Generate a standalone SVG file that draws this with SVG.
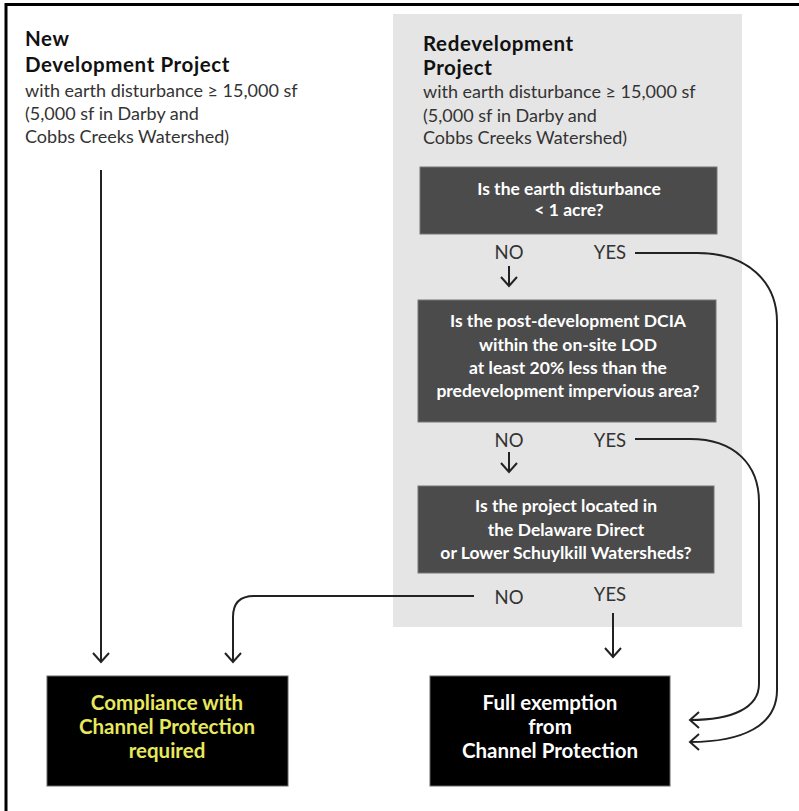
<svg xmlns="http://www.w3.org/2000/svg" width="799" height="811" viewBox="0 0 799 811">
<style>
  text { font-family: Lato, "Open Sans", "Liberation Sans", sans-serif; }
  .title { font-size: 20.5px; font-weight: bold; fill: #111; letter-spacing: 0.6px; }
  .sub { font-size: 18px; fill: #333; }
  .q { font-size: 17.5px; font-weight: bold; fill: #fff; text-anchor: middle; }
  .lbl { font-size: 18.5px; fill: #333; text-anchor: middle; }
  .res { font-size: 20.5px; font-weight: bold; text-anchor: middle; }
  .qbox { fill: #4b4b4b; stroke: #777; stroke-width: 1; }
  .rbox { fill: #000; stroke: #666; stroke-width: 1; }
  .line { fill: none; stroke: #222; stroke-width: 2; }
</style>
<defs>
  <marker id="ah" viewBox="0 0 20 20" refX="10" refY="10" markerWidth="20" markerHeight="20" markerUnits="userSpaceOnUse" orient="auto">
    <path d="M1,2 L10,10 L1,18" fill="none" stroke="#222" stroke-width="2"/>
  </marker>
</defs>
<rect x="0" y="0" width="799" height="811" fill="#fff"/>
<path d="M6,820 V4.5 H805" fill="none" stroke="#000" stroke-width="3"/>
<rect id="panel" x="393" y="14" width="349" height="613" fill="#e5e5e5"/>

<g id="new-project">
  <text class="title" x="25" y="46">New</text>
  <text class="title" x="25" y="72">Development Project</text>
  <text class="sub" x="25" y="97">with earth disturbance ≥ 15,000 sf</text>
  <text class="sub" x="25" y="120">(5,000 sf in Darby and</text>
  <text class="sub" x="25" y="143">Cobbs Creeks Watershed)</text>
</g>

<g id="redevelopment-project">
  <text class="title" x="423" y="51">Redevelopment</text>
  <text class="title" x="423" y="75">Project</text>
  <text class="sub" x="423" y="98">with earth disturbance ≥ 15,000 sf</text>
  <text class="sub" x="423" y="122">(5,000 sf in Darby and</text>
  <text class="sub" x="423" y="144">Cobbs Creeks Watershed)</text>
</g>

<g id="q1">
  <rect class="qbox" x="420" y="167" width="297" height="67"/>
  <text class="q" x="569" y="195">Is the earth disturbance</text>
  <text class="q" x="569" y="216">&lt; 1 acre?</text>
</g>

<g id="q2">
  <rect class="qbox" x="418" y="300" width="298" height="122"/>
  <text class="q" x="568" y="327">Is the post-development DCIA</text>
  <text class="q" x="568" y="351">within the on-site LOD</text>
  <text class="q" x="568" y="374">at least 20% less than the</text>
  <text class="q" x="568" y="397">predevelopment impervious area?</text>
</g>

<g id="q3">
  <rect class="qbox" x="418" y="486" width="296" height="87"/>
  <text class="q" x="566" y="512">Is the project located in</text>
  <text class="q" x="566" y="536">the Delaware Direct</text>
  <text class="q" x="566" y="559">or Lower Schuylkill Watersheds?</text>
</g>

<g id="compliance">
  <rect class="rbox" x="47" y="676" width="241" height="110"/>
  <text class="res" x="167" y="710" fill="#e8e85c">Compliance with</text>
  <text class="res" x="167" y="734" fill="#e8e85c">Channel Protection</text>
  <text class="res" x="167" y="758" fill="#e8e85c">required</text>
</g>

<g id="exemption">
  <rect class="rbox" x="430" y="676" width="240" height="110"/>
  <text class="res" x="550" y="710" fill="#fff">Full exemption</text>
  <text class="res" x="550" y="734" fill="#fff">from</text>
  <text class="res" x="550" y="758" fill="#fff">Channel Protection</text>
</g>

<g id="labels">
  <text class="lbl" x="509" y="259">NO</text>
  <text class="lbl" x="610" y="259">YES</text>
  <text class="lbl" x="509" y="447">NO</text>
  <text class="lbl" x="610" y="447">YES</text>
  <text class="lbl" x="509" y="604">NO</text>
  <text class="lbl" x="610" y="601">YES</text>
</g>

<g id="connectors">
  <path class="line" d="M101,170 V662" marker-end="url(#ah)"/>
  <path class="line" d="M474,596 H254 Q233,596 233,617 V662" marker-end="url(#ah)"/>
  <path class="line" d="M613,613 V657" marker-end="url(#ah)"/>
  <path class="line" d="M509,266 V286" marker-end="url(#ah)"/>
  <path class="line" d="M509,452 V472" marker-end="url(#ah)"/>
  <path class="line" d="M635,253 H697 C748,253 777,282 777,322 V690 C777,726 742,742 690,742" marker-end="url(#ah)"/>
  <path class="line" d="M635,439 H690 C735,439 759,465 759,502 V684 C759,708 732,720 690,720" marker-end="url(#ah)"/>
</g>
</svg>
